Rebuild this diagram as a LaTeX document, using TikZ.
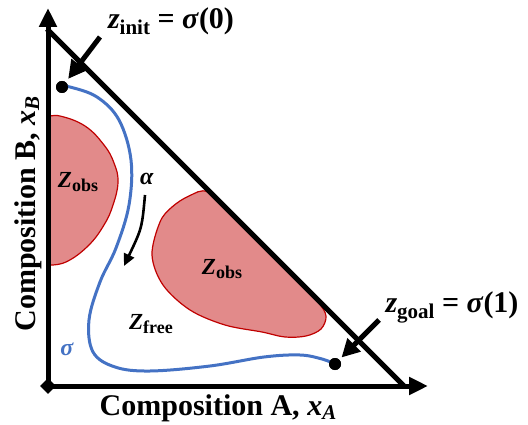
\documentclass[tikz,border=0pt]{standalone}
\usepackage{fontspec}
\setmainfont{Liberation Serif}
\usetikzlibrary{arrows.meta}
\definecolor{obsfill}{RGB}{226,138,138}
\definecolor{obsedge}{RGB}{192,0,0}
\definecolor{pathblue}{RGB}{68,114,196}
\newcommand{\bi}[1]{\textbf{\textit{#1}}}
\newcommand{\fs}[1]{\fontsize{#1}{#1}\selectfont}
\newcommand{\lowsub}[3]{\raisebox{-#1}{\fs{#2}#3}}
\begin{document}
\begin{tikzpicture}[x=1pt,y=-1pt,
  axisline/.style={line width=5pt, -{Triangle[length=19pt,width=17pt]}},
  edgeline/.style={line width=5pt},
  obs/.style={fill=obsfill, draw=obsedge, line width=1.2pt},
  traj/.style={draw=pathblue, line width=3pt},
  dot/.style={circle, fill=black, inner sep=0pt, minimum size=12pt},
  pointer/.style={line width=5pt, -{Triangle[length=18pt,width=18pt]}},
  lab/.style={inner sep=0pt, anchor=base},
  arrowalpha/.style={line width=2.6pt, -{Triangle[length=12pt,width=11pt]}},
]
\useasboundingbox (0,0) rectangle (528,425);

% obstacles
\draw[obs] plot[smooth, tension=0.7] coordinates {(48,117) (60,116) (85,126) (104,145) (114,163) (118,182) (113,205) (104,225) (88,246) (66,262) (48,265)} -- cycle;
\draw[obs] plot[smooth cycle, tension=0.55] coordinates {(160,222) (172,207) (189,196) (208,192) (235,219) (265,249) (295,279) (318,302) (326,316) (321,329) (306,336) (285,337) (262,332) (225,325) (190,310) (163,285) (152,255)};

% axes
\node[fill, rotate=45, minimum size=11pt, inner sep=0pt] (O) at (48,386) {};
\coordinate (ytip) at (48,8);
\coordinate (xtip) at (428,386);
\coordinate (dtop) at (47,29);
\coordinate (dbot) at (405,387);
\draw[edgeline] (dtop) -- (dbot);
\draw[axisline] (O.center) -- (ytip);
\draw[axisline] (O.center) -- (xtip);

% trajectory
\node[dot] (init) at (62,87) {};
\node[dot] (goal) at (335,364) {};
\draw[traj] plot[smooth, tension=0.6] coordinates {(init.center) (70,87) (97,97) (119,120) (131,160) (129,205) (116,248) (100,282) (89,320) (93,352) (115,367) (150,371) (210,366) (264,357) (300,355) (322,359) (goal.center)};
\node[dot] at (init) {};
\node[dot] at (goal) {};

% pointer arrows
\coordinate (pinit) at (100,37);
\coordinate (pgoal) at (379,320);
\draw[pointer, shorten >=4pt] (pinit) -- (init);
\draw[pointer, shorten >=3pt] (pgoal) -- (goal);

% alpha arrow
\coordinate (as) at (145,195);
\coordinate (ae) at (124,266);
\draw[arrowalpha] (as) .. controls (142,228) .. (ae);

% labels
\node[lab] (linit) at (171,29) {\fs{30}\bi{z}\lowsub{6pt}{21}{\textbf{init}} \textbf{=} \bi{σ}\textbf{(0)}};
\node[lab] (lgoal) at (452,312) {\fs{30}\bi{z}\lowsub{6pt}{21}{\textbf{goal}} \textbf{=} \bi{σ}\textbf{(1)}};
\node[lab] (lobs1) at (78,188) {\fs{23}\bi{Z}\lowsub{4pt}{18}{\textbf{obs}}};
\node[lab] (lobs2) at (222,274) {\fs{23}\bi{Z}\lowsub{4pt}{18}{\textbf{obs}}};
\node[lab] (lfree) at (151,329) {\fs{23}\bi{Z}\lowsub{4pt}{18}{\textbf{free}}};
\node[lab, text=pathblue] (lsigma) at (67,355) {\fs{24}\bi{σ}};
\node[lab] (lalpha) at (147,185) {\fs{24}\bi{α}};
\node[lab] (lA) at (218,415) {\fs{30}\textbf{Composition A,} \bi{x}\lowsub{4pt}{21}{\bi{A}}};
\node[lab, rotate=90] (lB) at (35,214) {\fs{30}\textbf{Composition B,} \bi{x}\lowsub{4pt}{21}{\bi{B}}};
\end{tikzpicture}
\end{document}
